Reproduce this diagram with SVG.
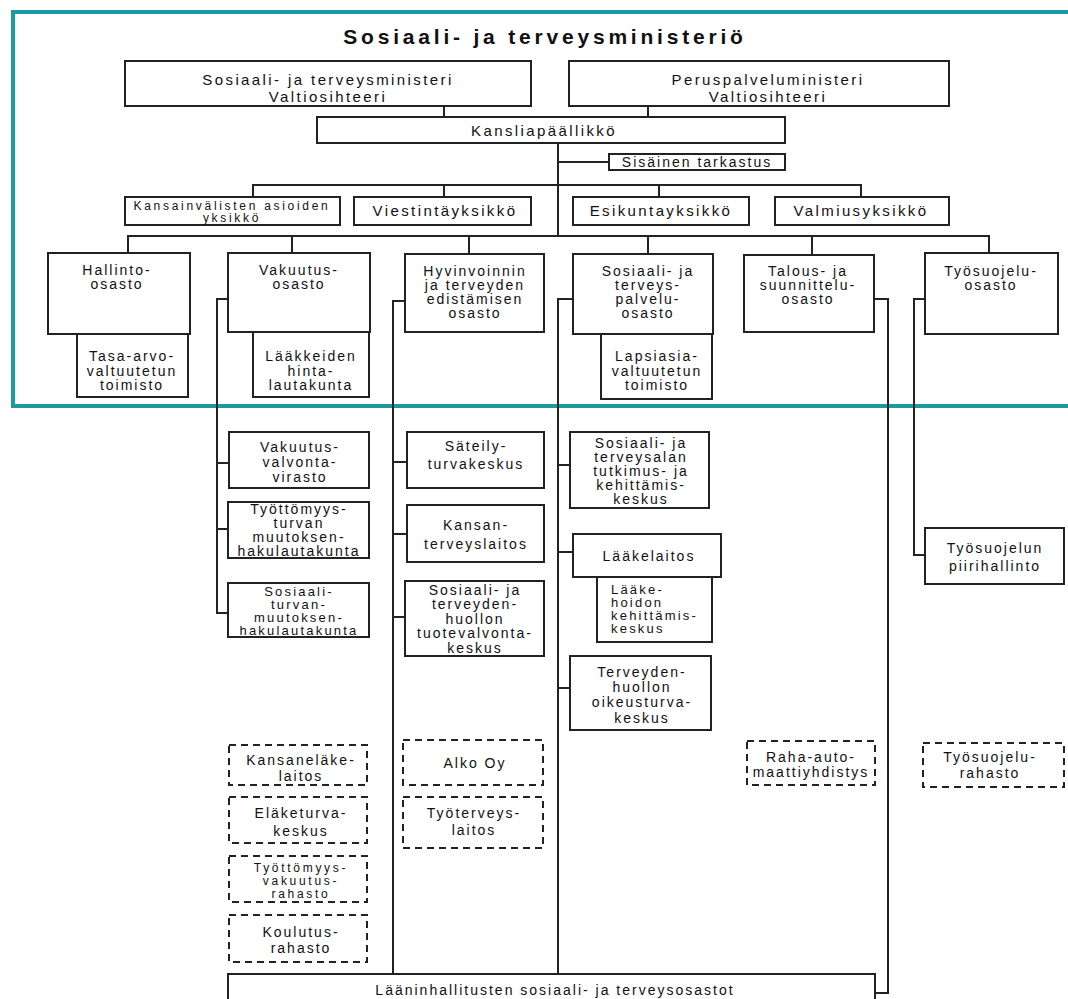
<svg xmlns="http://www.w3.org/2000/svg" width="1068" height="999" viewBox="0 0 1068 999">
<style>
.box{fill:#fff;stroke:#222;stroke-width:2}
.dbox{fill:#fff;stroke:#222;stroke-width:2;stroke-dasharray:7 5}
.conn{fill:none;stroke:#222;stroke-width:2}
.frame{fill:none;stroke:#1b9aa2;stroke-width:4}
text{font-family:"Liberation Sans",Arial,sans-serif;fill:#111;text-anchor:middle}
.t{font-size:14px;letter-spacing:2px}
.ts{font-size:13px;letter-spacing:2.2px}
.tx{font-size:12px;letter-spacing:2.7px}
.tl{font-size:15px;letter-spacing:2.4px}
.title{font-size:21px;font-weight:bold;letter-spacing:3.8px}
.start{text-anchor:start}
</style>
<rect class="frame" x="13" y="12" width="1070" height="394"/>
<text class="title" x="545" y="44">Sosiaali- ja terveysministeriö</text>
<g id="connectors">
<path class="conn" d="M444 106V117M648 106V117"/>
<path class="conn" d="M558 143V236M558 162H609"/>
<path class="conn" d="M253 197V185H861V197M444 185V197M659 185V197"/>
<path class="conn" d="M128 253V236H989V253M292 236V253M469 236V254M648 236V254M812 236V255"/>
<path class="conn" d="M228 299H217V613H228M217 463H229M217 529H228"/>
<path class="conn" d="M405 301H393V974M393 462H407M393 534H407M393 617H405"/>
<path class="conn" d="M573 299H558V974M558 465H570M558 552H573M558 688H570"/>
<path class="conn" d="M874 299H888V993H875"/>
<path class="conn" d="M925 299H914V555H925"/>
</g>
<g id="n-ministeri">
<rect class="box" x="125" y="61" width="406" height="45"/>
<text class="tl" x="328" y="85">Sosiaali- ja terveysministeri</text>
<text class="tl" x="328" y="102">Valtiosihteeri</text>
</g>
<g id="n-peruspalvelu">
<rect class="box" x="569" y="61" width="380" height="45"/>
<text class="tl" x="768" y="85">Peruspalveluministeri</text>
<text class="tl" x="768" y="102">Valtiosihteeri</text>
</g>
<g id="n-kanslia">
<rect class="box" x="317" y="117" width="468" height="26"/>
<text class="tl" x="544" y="136">Kansliapäällikkö</text>
</g>
<g id="n-sisainen">
<rect class="box" x="609" y="154" width="176" height="16"/>
<text class="t" x="697" y="167">Sisäinen tarkastus</text>
</g>
<g id="n-kansainvaliset">
<rect class="box" x="125" y="197" width="215" height="28"/>
<text class="tx" x="232" y="210">Kansainvälisten asioiden</text>
<text class="tx" x="232" y="222">yksikkö</text>
</g>
<g id="n-viestinta">
<rect class="box" x="354" y="197" width="177" height="28"/>
<text class="tl" x="445" y="216">Viestintäyksikkö</text>
</g>
<g id="n-esikunta">
<rect class="box" x="573" y="197" width="176" height="28"/>
<text class="tl" x="661" y="216">Esikuntayksikkö</text>
</g>
<g id="n-valmius">
<rect class="box" x="775" y="197" width="174" height="28"/>
<text class="tl" x="861" y="216">Valmiusyksikkö</text>
</g>
<g id="n-hallinto">
<rect class="box" x="48" y="253" width="142" height="81"/>
<text class="t" x="117" y="275">Hallinto-</text>
<text class="t" x="117" y="289">osasto</text>
</g>
<g id="n-vakuutus">
<rect class="box" x="228" y="253" width="142" height="79"/>
<text class="t" x="299" y="275">Vakuutus-</text>
<text class="t" x="299" y="289">osasto</text>
</g>
<g id="n-hyvinvointi">
<rect class="box" x="405" y="254" width="139" height="78"/>
<text class="t" x="475" y="276">Hyvinvoinnin</text>
<text class="t" x="475" y="290">ja terveyden</text>
<text class="t" x="475" y="304">edistämisen</text>
<text class="t" x="475" y="318">osasto</text>
</g>
<g id="n-sostp">
<rect class="box" x="573" y="254" width="140" height="80"/>
<text class="t" x="648" y="276">Sosiaali- ja</text>
<text class="t" x="648" y="290">terveys-</text>
<text class="t" x="648" y="304">palvelu-</text>
<text class="t" x="648" y="318">osasto</text>
</g>
<g id="n-talous">
<rect class="box" x="744" y="255" width="130" height="77"/>
<text class="t" x="808" y="276">Talous- ja</text>
<text class="t" x="808" y="290">suunnittelu-</text>
<text class="t" x="808" y="304">osasto</text>
</g>
<g id="n-tyosuojelu">
<rect class="box" x="925" y="253" width="133" height="81"/>
<text class="t" x="991" y="276">Työsuojelu-</text>
<text class="t" x="991" y="290">osasto</text>
</g>
<g id="n-tasa-arvo">
<rect class="box" x="77" y="334" width="111" height="63"/>
<text class="t" x="132" y="361">Tasa-arvo-</text>
<text class="t" x="132" y="376">valtuutetun</text>
<text class="t" x="132" y="390">toimisto</text>
</g>
<g id="n-laakkeiden">
<rect class="box" x="253" y="332" width="116" height="65"/>
<text class="t" x="311" y="361">Lääkkeiden</text>
<text class="t" x="311" y="376">hinta-</text>
<text class="t" x="311" y="390">lautakunta</text>
</g>
<g id="n-lapsiasia">
<rect class="box" x="601" y="334" width="111" height="65"/>
<text class="t" x="657" y="361">Lapsiasia-</text>
<text class="t" x="657" y="376">valtuutetun</text>
<text class="t" x="657" y="390">toimisto</text>
</g>
<g id="n-vakuutusvalvonta">
<rect class="box" x="229" y="432" width="140" height="56"/>
<text class="t" x="300" y="452">Vakuutus-</text>
<text class="t" x="300" y="467">valvonta-</text>
<text class="t" x="300" y="482">virasto</text>
</g>
<g id="n-tyottomyysturva">
<rect class="box" x="228" y="502" width="141" height="56"/>
<text class="t" x="299" y="514">Työttömyys-</text>
<text class="t" x="299" y="528">turvan</text>
<text class="t" x="299" y="542">muutoksen-</text>
<text class="t" x="299" y="556">hakulautakunta</text>
</g>
<g id="n-sosiaaliturva">
<rect class="box" x="228" y="583" width="141" height="54"/>
<text class="ts" x="299" y="596">Sosiaali-</text>
<text class="ts" x="299" y="609">turvan-</text>
<text class="ts" x="299" y="622">muutoksen-</text>
<text class="ts" x="299" y="635">hakulautakunta</text>
</g>
<g id="n-sateily">
<rect class="box" x="407" y="432" width="137" height="56"/>
<text class="t" x="476" y="451">Säteily-</text>
<text class="t" x="476" y="469">turvakeskus</text>
</g>
<g id="n-kansanterveys">
<rect class="box" x="407" y="505" width="137" height="57"/>
<text class="t" x="476" y="530">Kansan-</text>
<text class="t" x="476" y="549">terveyslaitos</text>
</g>
<g id="n-tuotevalvonta">
<rect class="box" x="405" y="581" width="139" height="75"/>
<text class="t" x="475" y="595">Sosiaali- ja</text>
<text class="t" x="475" y="609">terveyden-</text>
<text class="t" x="475" y="624">huollon</text>
<text class="t" x="475" y="638">tuotevalvonta-</text>
<text class="t" x="475" y="653">keskus</text>
</g>
<g id="n-stakes">
<rect class="box" x="570" y="432" width="139" height="76"/>
<text class="t" x="641" y="448">Sosiaali- ja</text>
<text class="t" x="641" y="462">terveysalan</text>
<text class="t" x="641" y="476">tutkimus- ja</text>
<text class="t" x="641" y="490">kehittämis-</text>
<text class="t" x="641" y="504">keskus</text>
</g>
<g id="n-laakelaitos">
<rect class="box" x="573" y="534" width="148" height="43"/>
<text class="t" x="649" y="561">Lääkelaitos</text>
</g>
<g id="n-laakehoito">
<rect class="box" x="597" y="577" width="115" height="65"/>
<text class="ts start" x="611" y="594">Lääke-</text>
<text class="ts start" x="611" y="607">hoidon</text>
<text class="ts start" x="611" y="620">kehittämis-</text>
<text class="ts start" x="611" y="633">keskus</text>
</g>
<g id="n-oikeusturva">
<rect class="box" x="570" y="656" width="141" height="74"/>
<text class="t" x="642" y="677">Terveyden-</text>
<text class="t" x="642" y="692">huollon</text>
<text class="t" x="642" y="707">oikeusturva-</text>
<text class="t" x="642" y="723">keskus</text>
</g>
<g id="n-piirihallinto">
<rect class="box" x="925" y="528" width="139" height="56"/>
<text class="t" x="995" y="553">Työsuojelun</text>
<text class="t" x="995" y="571">piirihallinto</text>
</g>
<g id="n-kela">
<rect class="dbox" x="229" y="745" width="138" height="40"/>
<text class="t" x="301" y="765">Kansaneläke-</text>
<text class="t" x="301" y="781">laitos</text>
</g>
<g id="n-etk">
<rect class="dbox" x="229" y="797" width="138" height="46"/>
<text class="t" x="301" y="818">Eläketurva-</text>
<text class="t" x="301" y="836">keskus</text>
</g>
<g id="n-tvr">
<rect class="dbox" x="229" y="856" width="138" height="46"/>
<text class="tx" x="301" y="872">Työttömyys-</text>
<text class="tx" x="301" y="885">vakuutus-</text>
<text class="tx" x="301" y="898">rahasto</text>
</g>
<g id="n-koulutus">
<rect class="dbox" x="229" y="915" width="138" height="47"/>
<text class="t" x="301" y="937">Koulutus-</text>
<text class="t" x="301" y="953">rahasto</text>
</g>
<g id="n-alko">
<rect class="dbox" x="403" y="740" width="140" height="45"/>
<text class="t" x="475" y="768">Alko Oy</text>
</g>
<g id="n-tyoterveys">
<rect class="dbox" x="403" y="797" width="140" height="51"/>
<text class="t" x="474" y="818">Työterveys-</text>
<text class="t" x="474" y="835">laitos</text>
</g>
<g id="n-ray">
<rect class="dbox" x="747" y="741" width="128" height="44"/>
<text class="t" x="811" y="762">Raha-auto-</text>
<text class="t" x="811" y="777">maattiyhdistys</text>
</g>
<g id="n-tsrahasto">
<rect class="dbox" x="923" y="743" width="141" height="44"/>
<text class="t" x="990" y="762">Työsuojelu-</text>
<text class="t" x="990" y="778">rahasto</text>
</g>
<g id="n-laaninhallitus">
<rect class="box" x="228" y="974" width="647" height="32"/>
<text class="t" x="555" y="995">Lääninhallitusten sosiaali- ja terveysosastot</text>
</g>
</svg>
